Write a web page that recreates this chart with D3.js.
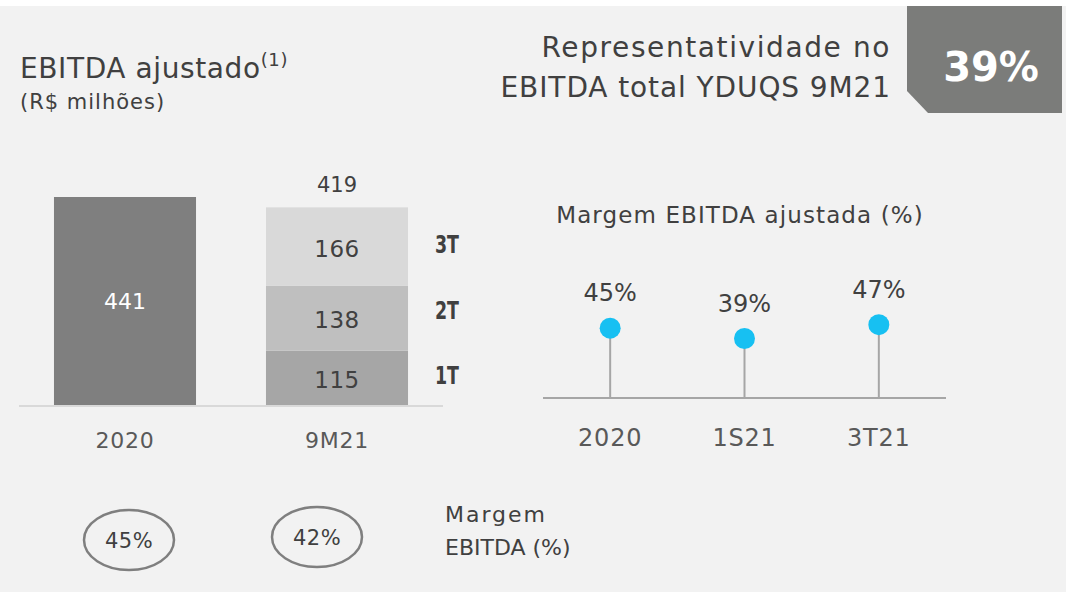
<!DOCTYPE html>
<html>
<head>
<meta charset="utf-8">
<script src="https://cdn.jsdelivr.net/npm/d3@7"></script>
<style>
  body { margin: 0; background: #ffffff; }
  svg text { font-family: "DejaVu Sans", sans-serif; }
</style>
</head>
<body>
<div id="chart"></div>
<script>
// EBITDA ajustado (R$ milhões)
const barYears = ["2020", "9M21"];
const ebitda2020 = 441;
const quarters = ["1T", "2T", "3T"];
const quarterValues = [115, 138, 166];
const quarterColors = ["#a6a6a6", "#bfbfbf", "#d9d9d9"];

// Margem EBITDA ajustada (%)
const marginPeriods = ["2020", "1S21", "3T21"];
const marginValues = [45, 39, 47];

// Margem EBITDA (%) under the bars
const circleMargins = [45, 42];

const representatividade = "39%";

const width = 1076, height = 592;

const svg = d3.select("#chart").append("svg")
    .attr("width", width)
    .attr("height", height);

// background panel
svg.append("rect")
    .attr("x", 0).attr("y", 6)
    .attr("width", 1066).attr("height", height - 6)
    .attr("fill", "#f2f2f2");

// titles
let title = svg.append("text")
    .attr("x", 20).attr("y", 78)
    .attr("font-size", 28)
    .attr("letter-spacing", 0.6)
    .attr("fill", "#404040");
title.append("tspan").text("EBITDA ajustado");
title.append("tspan").text("(1)").attr("font-size", 18).attr("dy", -12);

svg.append("text")
    .attr("x", 20).attr("y", 109)
    .attr("font-size", 21)
    .attr("letter-spacing", 1)
    .attr("fill", "#404040")
    .text("(R$ milhões)");

svg.append("text")
    .attr("x", 891).attr("y", 57)
    .attr("text-anchor", "end")
    .attr("font-size", 28)
    .attr("letter-spacing", 1.6)
    .attr("fill", "#404040")
    .text("Representatividade no");
svg.append("text")
    .attr("x", 891).attr("y", 97)
    .attr("text-anchor", "end")
    .attr("font-size", 28)
    .attr("letter-spacing", 0.9)
    .attr("fill", "#404040")
    .text("EBITDA total YDUQS 9M21");

// highlight box with cut corner
svg.append("path")
    .attr("d", "M907,6 L1062,6 L1062,113 L928,113 L907,91 Z")
    .attr("fill", "#7b7c7a");
svg.append("text")
    .attr("x", 991).attr("y", 81)
    .attr("text-anchor", "middle")
    .attr("font-size", 40)
    .attr("font-weight", "bold")
    .attr("fill", "#ffffff")
    .text(representatividade);

// ---- bar chart ----
const x = d3.scaleBand()
    .domain(barYears)
    .range([19, 443])
    .paddingInner(0.33)
    .paddingOuter(0.165);

const y = d3.scaleLinear()
    .domain([0, 441])
    .range([405, 197]);

// stacked data for 9M21
const stackRow = {};
quarters.forEach((q, i) => stackRow[q] = quarterValues[i]);
const stacked = d3.stack().keys(quarters)([stackRow]);
const total9M = d3.sum(quarterValues);

svg.append("rect")
    .attr("x", x("2020"))
    .attr("y", y(ebitda2020))
    .attr("width", x.bandwidth())
    .attr("height", y(0) - y(ebitda2020))
    .attr("fill", "#7f7f7f");

svg.append("text")
    .attr("x", x("2020") + x.bandwidth() / 2)
    .attr("y", (y(0) + y(ebitda2020)) / 2 + 8)
    .attr("text-anchor", "middle")
    .attr("font-size", 22)
    .attr("fill", "#ffffff")
    .text(ebitda2020);

const seg = svg.append("g").selectAll("g")
    .data(stacked)
    .enter().append("g");

seg.append("rect")
    .attr("x", x("9M21"))
    .attr("y", d => y(d[0][1]))
    .attr("width", x.bandwidth())
    .attr("height", d => y(d[0][0]) - y(d[0][1]))
    .attr("fill", (d, i) => quarterColors[i]);

seg.append("text")
    .attr("x", x("9M21") + x.bandwidth() / 2)
    .attr("y", d => (y(d[0][0]) + y(d[0][1])) / 2 + 10)
    .attr("text-anchor", "middle")
    .attr("font-size", 23)
    .attr("letter-spacing", 0.5)
    .attr("fill", "#404040")
    .text(d => d[0].data[d.key]);

// quarter legend, evenly spaced beside the stack (condensed bold)
const legendY = d3.scalePoint()
    .domain(quarters)
    .range([384, 253]);

seg.append("text")
    .attr("x", 435)
    .attr("y", d => legendY(d.key))
    .attr("font-size", 25)
    .attr("font-weight", "bold")
    .attr("textLength", 24)
    .attr("lengthAdjust", "spacingAndGlyphs")
    .attr("fill", "#404040")
    .text(d => d.key);

svg.append("text")
    .attr("x", x("9M21") + x.bandwidth() / 2)
    .attr("y", y(total9M) - 15)
    .attr("text-anchor", "middle")
    .attr("font-size", 21)
    .attr("fill", "#404040")
    .text(total9M);

// baseline
svg.append("line")
    .attr("x1", 19).attr("x2", 443)
    .attr("y1", y(0) + 1).attr("y2", y(0) + 1)
    .attr("stroke", "#d9d9d9")
    .attr("stroke-width", 2);

svg.selectAll(".barYear")
    .data(barYears)
    .enter().append("text")
    .attr("class", "barYear")
    .attr("x", d => x(d) + x.bandwidth() / 2)
    .attr("y", 448)
    .attr("text-anchor", "middle")
    .attr("font-size", 22)
    .attr("letter-spacing", 0.8)
    .attr("fill", "#595959")
    .text(d => d);

// ---- margin circles under bars ----
const cx = d3.scalePoint()
    .domain(barYears)
    .range([129, 317]);

const circ = svg.append("g").selectAll("g")
    .data(circleMargins)
    .enter().append("g");

circ.append("ellipse")
    .attr("cx", (d, i) => cx(barYears[i]))
    .attr("cy", (d, i) => 540 - i * 3)
    .attr("rx", 45)
    .attr("ry", 30)
    .attr("fill", "none")
    .attr("stroke", "#7f7f7f")
    .attr("stroke-width", 2.5);

circ.append("text")
    .attr("x", (d, i) => cx(barYears[i]))
    .attr("y", (d, i) => 548 - i * 3)
    .attr("text-anchor", "middle")
    .attr("font-size", 21)
    .attr("letter-spacing", 0.5)
    .attr("fill", "#404040")
    .text(d => d + "%");

svg.append("text")
    .attr("x", 445).attr("y", 522)
    .attr("font-size", 22)
    .attr("letter-spacing", 2)
    .attr("fill", "#404040")
    .text("Margem");
svg.append("text")
    .attr("x", 445).attr("y", 555)
    .attr("font-size", 22)
    .attr("fill", "#404040")
    .text("EBITDA (%)");

// ---- lollipop chart ----
const lx = d3.scalePoint()
    .domain(marginPeriods)
    .range([543, 946])
    .padding(0.5);

const ly = d3.scaleLinear()
    .domain([0, 50])
    .range([406, 319.5]);

const axisY = 398;

svg.append("text")
    .attr("x", 740).attr("y", 223)
    .attr("text-anchor", "middle")
    .attr("font-size", 23)
    .attr("letter-spacing", 1.1)
    .attr("fill", "#404040")
    .text("Margem EBITDA ajustada (%)");

svg.append("line")
    .attr("x1", 543).attr("x2", 946)
    .attr("y1", axisY).attr("y2", axisY)
    .attr("stroke", "#a6a6a6")
    .attr("stroke-width", 2);

const lol = svg.append("g").selectAll("g")
    .data(marginPeriods)
    .enter().append("g");

lol.append("line")
    .attr("x1", d => lx(d)).attr("x2", d => lx(d))
    .attr("y1", (d, i) => ly(marginValues[i]))
    .attr("y2", axisY)
    .attr("stroke", "#a6a6a6")
    .attr("stroke-width", 2);

lol.append("circle")
    .attr("cx", d => lx(d))
    .attr("cy", (d, i) => ly(marginValues[i]))
    .attr("r", 10.5)
    .attr("fill", "#17c0f2");

lol.append("text")
    .attr("x", d => lx(d))
    .attr("y", (d, i) => ly(marginValues[i]) - 27)
    .attr("text-anchor", "middle")
    .attr("font-size", 24)
    .attr("fill", "#404040")
    .text((d, i) => marginValues[i] + "%");

lol.append("text")
    .attr("x", d => lx(d))
    .attr("y", 446)
    .attr("text-anchor", "middle")
    .attr("font-size", 24)
    .attr("letter-spacing", 0.8)
    .attr("fill", "#595959")
    .text(d => d);
</script>
</body>
</html>
